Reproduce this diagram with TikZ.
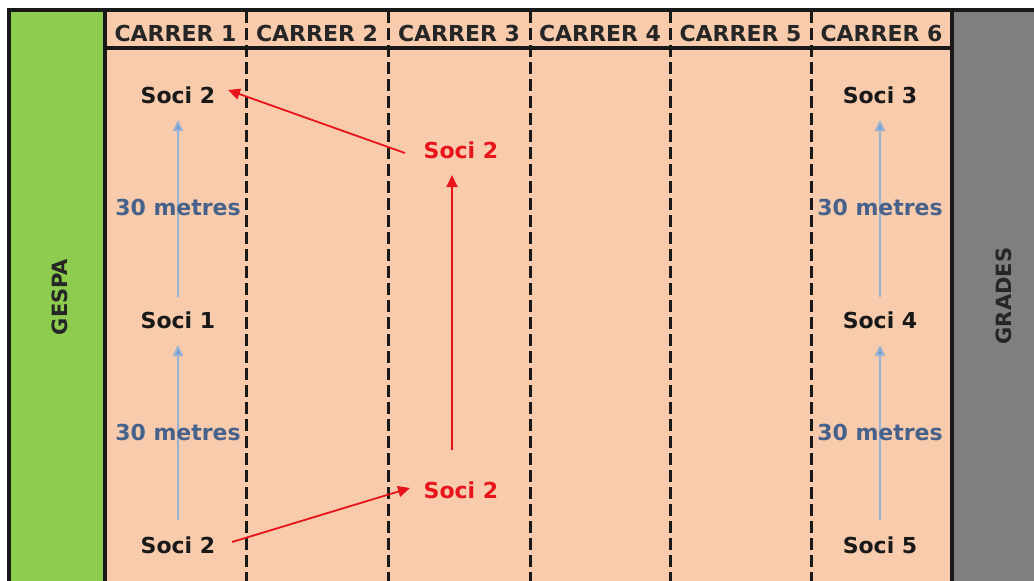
\documentclass[tikz,border=0pt]{standalone}
\usepackage{fontspec}
\setmainfont{DejaVu Sans}
\usetikzlibrary{arrows.meta}
\definecolor{peach}{HTML}{F8CBAD}
\definecolor{grass}{HTML}{8DCC4E}
\definecolor{wall}{HTML}{7F7F7F}
\definecolor{bluetxt}{HTML}{46618A}
\definecolor{bluearr}{HTML}{97B2D4}
\definecolor{bluehead}{HTML}{6A9AD0}
\definecolor{redc}{HTML}{E8141B}
\tikzset{
  txt/.style={font=\bfseries\fontsize{22}{24}\selectfont, text=black!90, inner sep=0pt},
  hdr/.style={font=\bfseries\fontsize{22}{24}\selectfont, text=black!85, inner sep=0pt},
  mtr/.style={font=\bfseries\fontsize{22}{24}\selectfont, text=bluetxt, inner sep=0pt},
  red/.style={font=\bfseries\fontsize{22}{24}\selectfont, text=redc, inner sep=0pt},
  side/.style={font=\bfseries\fontsize{21}{24}\selectfont, text=black!85, inner sep=0pt, rotate=90},
  lane/.style={line width=3pt, dash pattern=on 12pt off 5pt, black!90},
  bluearrow/.style={draw=bluearr, line width=2pt, -{Triangle[length=11pt,width=10pt,fill=bluehead]}},
  redarrow/.style={draw=redc, line width=1.8pt, -{Triangle[length=12pt,width=11pt]}}
}
\begin{document}
\begin{tikzpicture}[x=1pt,y=-1pt]
\useasboundingbox (0,0) rectangle (1034,581);
\fill[white] (0,0) rectangle (1034,581);
% areas
\fill[grass] (9,10) rectangle (105,581);
\fill[peach] (105,10) rectangle (952,581);
\fill[wall] (952,10) rectangle (1034,581);
% frame lines
\draw[line width=3.2pt, black!90] (1034,10) -- (9,10) -- (9,581);
\draw[line width=3.2pt, black!90] (105,10) -- (105,581);
\draw[line width=3.2pt, black!90] (952,10) -- (952,581);
\draw[line width=3.2pt, black!90] (105,48) -- (952,48);
% lane lines
\foreach \x in {246,388,530,670,811}{
  \draw[lane] (\x,11) -- (\x,581);
}
% headers
\node[hdr] (h1) at (175.5,33) {CARRER 1};
\node[hdr] (h2) at (317,33) {CARRER 2};
\node[hdr] (h3) at (459,33) {CARRER 3};
\node[hdr] (h4) at (600,33) {CARRER 4};
\node[hdr] (h5) at (740.5,33) {CARRER 5};
\node[hdr] (h6) at (881.5,33) {CARRER 6};
% sides
\node[side] (gespa) at (60,297) {GESPA};
\node[side] (grades) at (1004,296) {GRADES};
% left column
\node[txt] (a2top) at (178,95) {Soci 2};
\node[txt] (a1) at (178,320) {Soci 1};
\node[txt] (a2bot) at (178,545) {Soci 2};
% right column
\node[txt] (b3) at (880,95) {Soci 3};
\node[txt] (b4) at (880,320) {Soci 4};
\node[txt] (b5) at (880,545) {Soci 5};
% blue arrows
\draw[bluearrow, shorten <=23pt, shorten >=25pt] (a1.center) -- (a2top.center);
\draw[bluearrow, shorten <=25pt, shorten >=25pt] (a2bot.center) -- (a1.center);
\draw[bluearrow, shorten <=23pt, shorten >=25pt] (b4.center) -- (b3.center);
\draw[bluearrow, shorten <=25pt, shorten >=25pt] (b5.center) -- (b4.center);
% metres labels
\node[mtr] (m1) at (178,207) {30 metres};
\node[mtr] (m2) at (178,432) {30 metres};
\node[mtr] (m3) at (880,207) {30 metres};
\node[mtr] (m4) at (880,432) {30 metres};
% red
\node[red] (r2top) at (461,150) {Soci 2};
\node[red] (r2bot) at (461,490) {Soci 2};
\coordinate (vs) at (452,450);
\coordinate (ve) at (452,175);
\draw[redarrow] (vs) -- (ve);
\coordinate (d1s) at (232,542);
\coordinate (d1e) at (410,488);
\draw[redarrow] (d1s) -- (d1e);
\coordinate (d2s) at (405,153);
\coordinate (d2e) at (228,90);
\draw[redarrow] (d2s) -- (d2e);
\end{tikzpicture}
\end{document}
